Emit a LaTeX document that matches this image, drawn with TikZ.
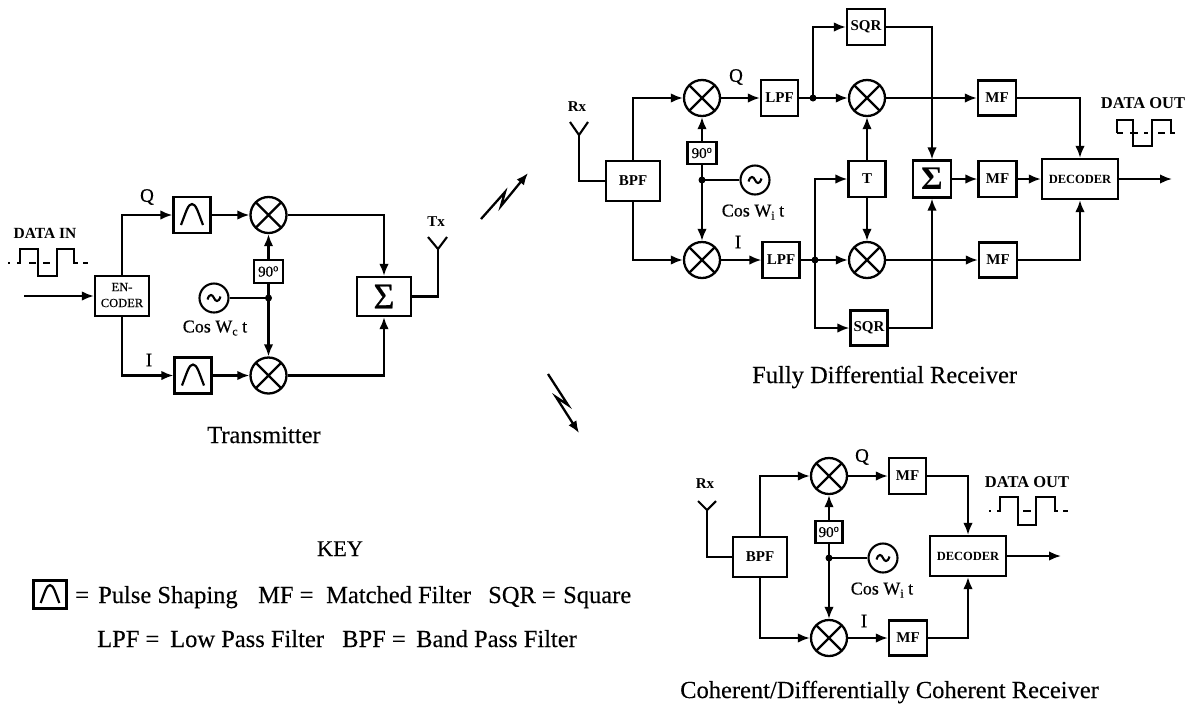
\documentclass[tikz,border=0pt]{standalone}
\usepackage{fontspec}
\setmainfont{Liberation Serif}
\newcommand{\labfont}{\bfseries}
\newfontfamily\txtfont[FakeBold=0.6]{Liberation Serif}
\newfontfamily\capfont[FakeBold=0.2]{Liberation Serif}
\usetikzlibrary{arrows.meta,calc}
\newcommand{\pxsize}[1]{\fontsize{#1}{#1}\selectfont}
\newcommand{\lowsub}[1]{\raisebox{-3pt}{\pxsize{12}#1}}
\tikzset{
  x=1pt,y=-1pt,
  ln/.style={line width=2.1pt,line join=miter},
  ar/.style={ln,-{Latex[length=12pt,width=9.5pt]}},
  blk/.style 2 args={draw,line width=2.2pt,inner sep=0pt,minimum width=#1pt,minimum height=#2pt,align=center},
  mix/.style={draw,circle,line width=2.3pt,inner sep=0pt,minimum size=36pt,
    path picture={\draw[line width=2.3pt]
      (path picture bounding box.north west)--(path picture bounding box.south east)
      (path picture bounding box.north east)--(path picture bounding box.south west);}},
  osc/.style={draw,circle,line width=2.1pt,inner sep=0pt,minimum size=29pt},
  junc/.style={circle,fill=black,inner sep=0pt,minimum size=7pt},
  lab/.style={font=\labfont\pxsize{15},inner sep=0pt},
  captxt/.style={font=\capfont\pxsize{24.5},inner sep=0pt,anchor=base west},
  pulsepeak/.pic={\draw[line width=2.2pt] (-11,10) .. controls (-6,-3) and (-4,-11) .. (0,-11) .. controls (4,-11) and (6,-3) .. (11,10);},
  tildewave/.pic={\draw[line width=2.1pt] (-6.5,1.5) .. controls (-4.5,-5) and (-1.5,-3.5) .. (0,0) .. controls (1.5,3.5) and (4.5,5) .. (6.5,-1.5);},
  wave/.style={line width=1.8pt},
}
\begin{document}
\begin{tikzpicture}
\useasboundingbox (0,0) rectangle (1185,705);

% ---- Transmitter
\node[blk={54}{40}] (enc) at (122,296) {};
\node[lab,font=\txtfont\pxsize{12.5}] (enclab1) at (122,287) {EN-};
\node[lab,font=\txtfont\pxsize{12.5}] (enclab2) at (122,303) {CODER};
\node[blk={37}{36}] (pq) at (192,215) {};
\node[blk={37}{36}] (pi) at (193,375.5) {};
\pic at (pq) {pulsepeak};
\pic at (pi) {pulsepeak};
\node[mix] (tm1) at (268.5,215) {};
\node[mix] (tm2) at (268.5,375.5) {};
\node[blk={29}{23},font=\txtfont\pxsize{15}] (tp90) at (268.5,271.5) {90\textsuperscript{o}};
\node[osc] (tosc) at (214,298) {};
\pic at (tosc) {tildewave};
\node[junc] (td) at (268.5,298) {};
\node[blk={54}{39},font=\txtfont\pxsize{36}] (tsum) at (384,296.5) {\raisebox{-3pt}{Σ}};
\coordinate (tin) at (24,296);
\coordinate (txj) at (438,249);
\coordinate (txa) at (428,237);
\coordinate (txb) at (447,237);
\draw[ar] (tin) -- (enc.west);
\draw[ar] (enc.north) |- (pq.west);
\draw[ar] (enc.south) |- (pi.west);
\draw[ar] (pq.east) -- (tm1.west);
\draw[ar] (pi.east) -- (tm2.west);
\draw[ar] (tm1.east) -| (tsum.north);
\draw[ar] (tm2.east) -| (tsum.south);
\draw[ar] (tp90.north) -- (tm1.south);
\draw[ln] (tp90.south) -- (td.center);
\draw[ar] (td.center) -- (tm2.north);
\draw[ln] (tosc.east) -- (td.center);
\draw[ln] (tsum.east) -| (txj);
\draw[ln] (txa) -- (txj) -- (txb);
\node[lab,font=\txtfont\pxsize{19}] (tq) at (147,197) {Q};
\node[lab,font=\txtfont\pxsize{19}] (ti) at (149,360) {I};
\node[lab] (tx) at (436,222) {Tx};
\node[lab,font=\txtfont\pxsize{18}] (tcos) at (215,328) {Cos W\lowsub{c} t};
\node[lab,font=\labfont\pxsize{15.5}] (din) at (45,233) {DATA IN};
\node[captxt] (tcap) at (207,443) {Transmitter};
\draw[wave] (17,263) -- (20,263) -- (20,249) -- (38,249) -- (38,276) -- (57,276) -- (57,249) -- (74,249) -- (74,263) -- (78,263);
\draw[wave] (8,263) -- (10,263) (29,263) -- (36,263) (43,263) -- (50,263) (83,263) -- (88,263);

% ---- Fully differential receiver
\node[blk={54}{40},font=\labfont\pxsize{15}] (bpf) at (633,181) {BPF};
\node[mix] (m1) at (702,98) {};
\node[mix] (m2) at (702,260) {};
\node[blk={29}{22},font=\txtfont\pxsize{15}] (p90) at (702,153) {90\textsuperscript{o}};
\node[junc] (d0) at (702,180) {};
\node[osc] (osc1) at (755,180) {};
\pic at (osc1) {tildewave};
\node[blk={37}{36},font=\labfont\pxsize{15}] (l1) at (779.5,98) {LPF};
\node[blk={37}{36},font=\labfont\pxsize{15}] (l2) at (781,260) {LPF};
\node[junc] (d1) at (813,98) {};
\node[junc] (d2) at (815,260) {};
\node[blk={38}{36},font=\labfont\pxsize{15}] (s1) at (866,27) {SQR};
\node[blk={37}{35},font=\labfont\pxsize{15}] (s2) at (869,328) {SQR};
\node[mix] (m3) at (867,98) {};
\node[mix] (m4) at (867,260) {};
\node[blk={37}{36},font=\labfont\pxsize{15}] (tt) at (867,179) {T};
\node[blk={38}{37},font=\labfont\pxsize{33}] (sum) at (932,179) {\raisebox{-3pt}{Σ}};
\node[blk={38}{35},font=\labfont\pxsize{15}] (mf1) at (997,98) {MF};
\node[blk={38}{36},font=\labfont\pxsize{15}] (mf2) at (997.5,179) {MF};
\node[blk={38}{35},font=\labfont\pxsize{15}] (mf3) at (998,260) {MF};
\node[blk={76}{40},font=\labfont\pxsize{12.5}] (dec) at (1080,179) {DECODER};
\coordinate (rj) at (579,135);
\coordinate (ra) at (570,122);
\coordinate (rb) at (588,122);
\coordinate (o1) at (1172,179);
\draw[ln] (bpf.west) -| (rj);
\draw[ln] (ra) -- (rj) -- (rb);
\draw[ar] (bpf.north) |- (m1.west);
\draw[ar] (bpf.south) |- (m2.west);
\draw[ar] (p90.north) -- (m1.south);
\draw[ln] (p90.south) -- (d0.center);
\draw[ar] (d0.center) -- (m2.north);
\draw[ln] (osc1.west) -- (d0.center);
\draw[ar] (m1.east) -- (l1.west);
\draw[ar] (m2.east) -- (l2.west);
\draw[ln] (l1.east) -- (d1.center);
\draw[ln] (l2.east) -- (d2.center);
\draw[ar] (d1.center) -- (m3.west);
\draw[ar] (d2.center) -- (m4.west);
\draw[ar] (d1.center) |- (s1.west);
\draw[ar] (d2.center) |- (s2.west);
\draw[ar] (d2.center) |- (tt.west);
\draw[ar] (tt.north) -- (m3.south);
\draw[ar] (tt.south) -- (m4.north);
\draw[ar] (s1.east) -| (sum.north);
\draw[ar] (s2.east) -| (sum.south);
\draw[ar] (m3.east) -- (mf1.west);
\draw[ar] (m4.east) -- (mf3.west);
\draw[ar] (sum.east) -- (mf2.west);
\draw[ar] (mf2.east) -- (dec.west);
\draw[ar] (mf1.east) -| (dec.north);
\draw[ar] (mf3.east) -| (dec.south);
\draw[ar] (dec.east) -- (o1);
\node[lab] (rx1) at (577,107) {Rx};
\node[lab,font=\txtfont\pxsize{19}] (q1) at (736,77) {Q};
\node[lab,font=\txtfont\pxsize{19}] (i1) at (738,242) {I};
\node[lab,font=\txtfont\pxsize{18}] (cos1) at (753,212) {Cos W\lowsub{i} t};
\node[lab,font=\labfont\pxsize{16.5}] (dout1) at (1143,103) {DATA OUT};
\node[captxt] (fcap) at (752,383) {Fully Differential Receiver};
\draw[wave] (1117,133) -- (1117,120) -- (1133,120) -- (1133,146) -- (1152,146) -- (1152,120) -- (1171,120) -- (1171,133) -- (1175,133);
\draw[wave] (1117,133) -- (1123,133) (1130,133) -- (1138,133) (1144,133) -- (1148,133) (1158,133) -- (1165,133);

% ---- Coherent receiver
\node[blk={54}{40},font=\labfont\pxsize{15}] (cbpf) at (760,557) {BPF};
\node[mix] (c1) at (829,476) {};
\node[mix] (c2) at (829,638) {};
\node[blk={27}{22},font=\txtfont\pxsize{15}] (c90) at (829,532) {90\textsuperscript{o}};
\node[junc] (cd) at (829,558) {};
\node[osc] (cosc) at (883,558) {};
\pic at (cosc) {tildewave};
\node[blk={37}{36},font=\labfont\pxsize{15}] (cmf1) at (907.5,476) {MF};
\node[blk={38}{35},font=\labfont\pxsize{15}] (cmf2) at (908,638) {MF};
\node[blk={76}{40},font=\labfont\pxsize{12.5}] (cdec) at (968,556) {DECODER};
\coordinate (cj) at (707,510);
\coordinate (ca) at (698,501);
\coordinate (cb) at (716,501);
\coordinate (o2) at (1061,556);
\draw[ln] (cbpf.west) -| (cj);
\draw[ln] (ca) -- (cj) -- (cb);
\draw[ar] (cbpf.north) |- (c1.west);
\draw[ar] (cbpf.south) |- (c2.west);
\draw[ar] (c90.north) -- (c1.south);
\draw[ln] (c90.south) -- (cd.center);
\draw[ar] (cd.center) -- (c2.north);
\draw[ln] (cosc.west) -- (cd.center);
\draw[ar] (c1.east) -- (cmf1.west);
\draw[ar] (c2.east) -- (cmf2.west);
\draw[ar] (cmf1.east) -| (cdec.north);
\draw[ar] (cmf2.east) -| (cdec.south);
\draw[ar] (cdec.east) -- (o2);
\node[lab] (rx2) at (705,484) {Rx};
\node[lab,font=\txtfont\pxsize{19}] (q2) at (862,457) {Q};
\node[lab,font=\txtfont\pxsize{19}] (i2) at (864,621) {I};
\node[lab,font=\txtfont\pxsize{18}] (cos2) at (882,590) {Cos W\lowsub{i} t};
\node[lab,font=\labfont\pxsize{16.5}] (dout2) at (1027,482) {DATA OUT};
\node[captxt] (ccap) at (680,698) {Coherent/Differentially Coherent Receiver};
\draw[wave] (997,511) -- (1000,511) -- (1000,497) -- (1018,497) -- (1018,525) -- (1036,525) -- (1036,497) -- (1055,497) -- (1055,511) -- (1058,511);
\draw[wave] (989,511) -- (991,511) (1023,511) -- (1031,511) (1063,511) -- (1068,511);

% ---- Radio links
\coordinate (b1a) at (481,219);
\coordinate (b1b) at (505,192);
\coordinate (b1c) at (501,206);
\coordinate (b1d) at (528,173);
\draw[ar,line width=2.3pt] (b1a) -- (b1b) -- (b1c) -- (b1d);
\coordinate (b2a) at (548,374);
\coordinate (b2b) at (568,405);
\coordinate (b2c) at (556,397);
\coordinate (b2d) at (579,433);
\draw[ar,line width=2.3pt] (b2a) -- (b2b) -- (b2c) -- (b2d);

% ---- Key
\node[captxt,font=\capfont\pxsize{22.4},anchor=base] (key) at (340,556) {KEY};
\node[blk={33}{28},line width=3.6pt] (kbox) at (50,594.5) {};
\pic[scale=.85] at (kbox) {pulsepeak};
\node[captxt] (k1) at (75,603) {=};
\node[captxt] (k2) at (98,603) {Pulse Shaping};
\node[captxt] (k3) at (258,603) {MF =};
\node[captxt] (k4) at (326,603) {Matched Filter};
\node[captxt] (k5) at (488,603) {SQR =};
\node[captxt] (k6) at (563,603) {Square};
\node[captxt] (k7) at (97,647) {LPF =};
\node[captxt] (k8) at (170,647) {Low Pass Filter};
\node[captxt] (k9) at (342,647) {BPF =};
\node[captxt] (k10) at (416,647) {Band Pass Filter};
\end{tikzpicture}
\end{document}
